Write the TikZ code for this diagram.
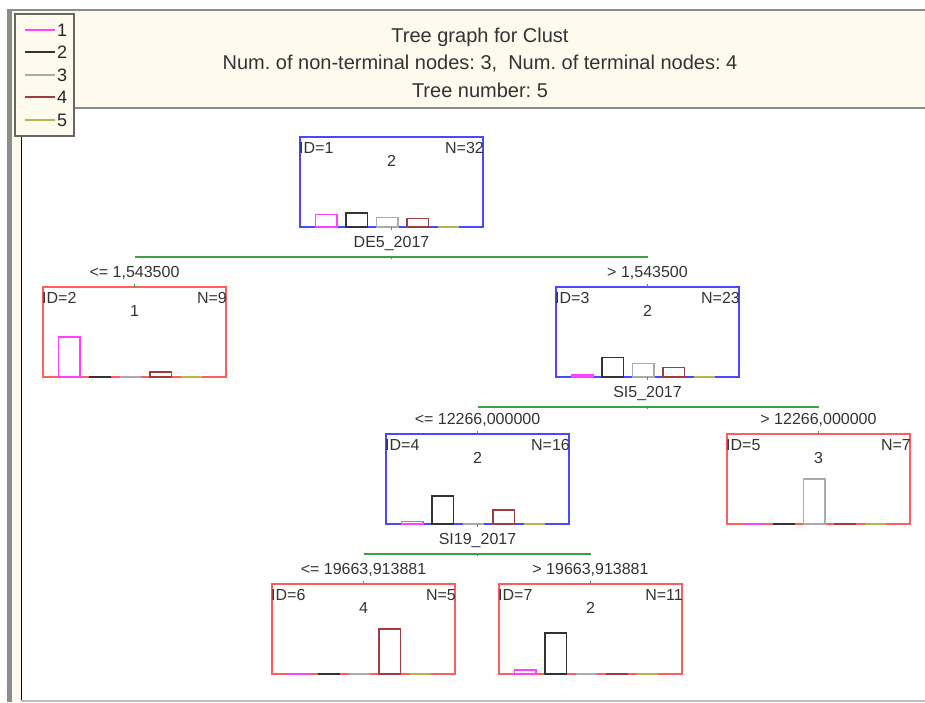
\documentclass[tikz,border=0pt]{standalone}
\usepackage{fontspec}
\setmainfont{Liberation Sans}
\usetikzlibrary{calc}
\frenchspacing

\definecolor{cream}{HTML}{FFFAEE}
\definecolor{frame}{HTML}{8C8C8C}
\definecolor{txt}{HTML}{333333}
\definecolor{cA}{HTML}{FF40FF}
\definecolor{cB}{HTML}{333333}
\definecolor{cC}{HTML}{ABABAB}
\definecolor{cD}{HTML}{A03C3C}
\definecolor{cE}{HTML}{B4B450}
\definecolor{boxblue}{HTML}{4848FF}
\definecolor{boxred}{HTML}{FF5C5C}
\definecolor{splitgreen}{HTML}{3FA03F}

\tikzset{
  tbox/.style={draw, line width=1.3pt, minimum width=183pt, minimum height=90pt,
               inner sep=0pt, outer sep=0pt},
  lbl/.style={text=txt, inner sep=0pt, font=\fontsize{16}{19}\selectfont},
  leglbl/.style={text=black!85, inner sep=0pt, font=\fontsize{18}{21}\selectfont},
  ttl/.style={text=txt, inner sep=0pt, font=\fontsize{20}{24}\selectfont, anchor=base},
  split/.style={draw=splitgreen, line width=1.3pt},
  tick/.style={draw=splitgreen, line width=1pt},
  bar/.style={line width=1.3pt},
}

% ID, N, predicted class and class histogram of one tree node
\newcommand\nodecontent[5]{%
  \node[lbl, anchor=base west] at ([shift={(-1pt,-16.5pt)}]#1.north west) {ID=#2};
  \node[lbl, anchor=base east] at ([shift={(1pt,-16.5pt)}]#1.north east) {N=#3};
  \node[lbl, anchor=base] at ([yshift=-29pt]#1.north) {#4};
  \foreach \c/\col [count=\i from 0] in {#5} {
    \pgfmathsetmacro\xa{15.5+30.5*\i}
    \pgfmathsetmacro\xb{\xa+21.5}
    \pgfmathsetmacro\h{\c*45/#3}
    \ifnum\c=0
      \draw[bar, draw=\col] ([xshift=\xa pt]#1.south west) -- ([xshift=\xb pt]#1.south west);
    \else
      \draw[bar, draw=\col] ([xshift=\xa pt]#1.south west) rectangle ([xshift=\xb pt, yshift=\h pt]#1.south west);
    \fi
  }
}

\begin{document}
\begin{tikzpicture}[x=1pt, y=-1pt]
\useasboundingbox (0,0) rectangle (925,702);
\fill[white] (0,0) rectangle (925,702);

% window frame and header band
\fill[cream] (12,10) rectangle (925,108);
\fill[cream] (12,108) rectangle (21,702);
\fill[frame] (7,9) rectangle (12,702);
\draw[frame, line width=2pt] (7,9.5) -- (925,9.5);
\draw[frame, line width=1.5pt] (74,108) -- (925,108);
\draw[black, line width=1pt] (21.5,136) -- (21.5,702);
\draw[black!25, line width=1.2pt] (21,701) -- (925,701);

% legend
\draw[fill=cream, draw=black!60, line width=1.2pt] (15,14) rectangle (74,136);
\foreach \k/\col/\y in {1/cA/30,2/cB/52,3/cC/75,4/cD/97,5/cE/120} {
  \draw[\col, line width=1.6pt] (25,\y) -- (55,\y);
  \node[leglbl, anchor=west] (leg\k) at (57,\y) {\k};
}

% title
\node[ttl] (title1) at (480,42) {Tree graph for Clust};
\node[ttl] (title2) at (480,69) {Num. of non-terminal nodes: 3,\ \ Num. of terminal nodes: 4};
\node[ttl] (title3) at (480,97) {Tree number: 5};

% tree nodes
\node[tbox, draw=boxblue] (n1) at (391.5,182) {};
\node[tbox, draw=boxred]  (n2) at (134.5,332) {};
\node[tbox, draw=boxblue] (n3) at (647.5,332) {};
\node[tbox, draw=boxblue] (n4) at (477.5,479) {};
\node[tbox, draw=boxred]  (n5) at (818.5,479) {};
\node[tbox, draw=boxred]  (n6) at (363.5,629) {};
\node[tbox, draw=boxred]  (n7) at (590.5,629) {};

\nodecontent{n1}{1}{32}{2}{9/cA,10/cB,7/cC,6/cD,0/cE}
\nodecontent{n2}{2}{9}{1}{8/cA,0/cB,0/cC,1/cD,0/cE}
\nodecontent{n3}{3}{23}{2}{1/cA,10/cB,7/cC,5/cD,0/cE}
\nodecontent{n4}{4}{16}{2}{1/cA,10/cB,0/cC,5/cD,0/cE}
\nodecontent{n5}{5}{7}{3}{0/cA,0/cB,7/cC,0/cD,0/cE}
\nodecontent{n6}{6}{5}{4}{0/cA,0/cB,0/cC,5/cD,0/cE}
\nodecontent{n7}{7}{11}{2}{1/cA,10/cB,0/cC,0/cD,0/cE}

% splits: variable name, split line, condition labels
\foreach \p/\l/\r/\v/\cl/\cr in {
    n1/n2/n3/{DE5\_2017}/{<= 1,543500}/{> 1,543500},
    n3/n4/n5/{SI5\_2017}/{<= 12266,000000}/{> 12266,000000},
    n4/n6/n7/{SI19\_2017}/{<= 19663,913881}/{> 19663,913881}} {
  \node[lbl, anchor=base] (var\p) at ([yshift=-20pt]\p.south) {\v};
  \coordinate (s\p) at ([yshift=-30pt]\p.south);
  \draw[split] (\l.north |- s\p) -- (\r.north |- s\p);
  \draw[tick] (\p.south) -- ++(0,3);
  \draw[tick] ([yshift=1pt]s\p) -- ([yshift=-2pt]s\p);
  \draw[tick] (\l.north) -- ++(0,-3);
  \draw[tick] (\r.north) -- ++(0,-3);
  \node[lbl, anchor=base] (cl\l) at ([yshift=10pt]\l.north) {\cl};
  \node[lbl, anchor=base] (cr\r) at ([yshift=10pt]\r.north) {\cr};
}
\end{tikzpicture}
\end{document}
